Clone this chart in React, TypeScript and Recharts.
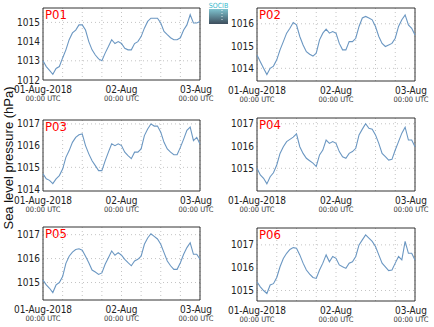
import { LineChart, Line, XAxis, YAxis, CartesianGrid, ReferenceArea } from "recharts";

// hours since 01-Aug-2018 00:00 UTC
const hours = Array.from({ length: 49 }, (_, i) => i);
const hourTicks = [0, 6, 12, 18, 24, 30, 36, 42, 48];
const dayLabels: Record<number, string> = { 0: "01-Aug-2018", 24: "02-Aug", 48: "03-Aug" };

const p01 = [1013.0, 1012.7, 1012.5, 1012.3, 1012.6, 1012.7, 1013.15, 1013.57, 1014.1, 1014.45, 1014.6, 1014.87, 1014.87, 1014.6, 1014.0, 1013.57, 1013.3, 1013.1, 1013.0, 1013.4, 1013.74, 1014.1, 1013.9, 1014.0, 1013.9, 1013.65, 1013.57, 1013.57, 1013.9, 1014.0, 1014.26, 1014.7, 1015.05, 1015.22, 1015.22, 1015.22, 1014.97, 1014.53, 1014.36, 1014.2, 1014.1, 1014.1, 1014.2, 1014.6, 1014.87, 1015.4, 1014.97, 1014.97, 1015.05];
const p02 = [1014.6, 1014.3, 1014.0, 1013.72, 1014.0, 1014.1, 1014.38, 1014.83, 1015.2, 1015.58, 1015.8, 1016.06, 1015.95, 1015.43, 1015.05, 1014.75, 1014.63, 1014.55, 1014.68, 1015.28, 1015.58, 1015.76, 1015.58, 1015.65, 1015.58, 1015.12, 1014.83, 1014.83, 1015.2, 1015.2, 1015.35, 1015.88, 1016.26, 1016.33, 1016.26, 1016.18, 1015.88, 1015.43, 1015.12, 1014.98, 1015.05, 1015.12, 1015.35, 1015.88, 1016.18, 1016.4, 1015.95, 1015.8, 1015.5];
const p03 = [1014.7, 1014.47, 1014.4, 1014.25, 1014.47, 1014.62, 1014.92, 1015.46, 1015.77, 1016.15, 1016.38, 1016.5, 1016.54, 1016.0, 1015.62, 1015.3, 1015.08, 1014.85, 1014.85, 1015.3, 1015.7, 1016.08, 1016.0, 1016.08, 1016.0, 1015.7, 1015.54, 1015.4, 1015.7, 1015.7, 1015.85, 1016.46, 1016.77, 1017.0, 1016.9, 1016.9, 1016.62, 1016.15, 1015.85, 1015.7, 1015.58, 1015.58, 1015.92, 1016.3, 1016.7, 1016.85, 1016.23, 1016.38, 1016.08];
const p04 = [1015.0, 1014.7, 1014.55, 1014.3, 1014.62, 1014.8, 1015.15, 1015.67, 1015.97, 1016.2, 1016.3, 1016.4, 1016.55, 1015.97, 1015.67, 1015.45, 1015.34, 1015.23, 1015.08, 1015.6, 1015.82, 1016.27, 1016.12, 1016.2, 1016.12, 1015.75, 1015.52, 1015.45, 1015.67, 1015.75, 1015.9, 1016.5, 1016.76, 1017.0, 1016.8, 1016.76, 1016.5, 1016.12, 1015.67, 1015.52, 1015.37, 1015.4, 1015.82, 1016.2, 1016.58, 1016.85, 1016.27, 1016.27, 1015.97];
const p05 = [1015.1, 1014.9, 1014.76, 1014.58, 1014.9, 1015.0, 1015.25, 1015.8, 1016.1, 1016.27, 1016.38, 1016.41, 1016.35, 1016.1, 1015.83, 1015.52, 1015.44, 1015.34, 1015.4, 1015.76, 1016.04, 1016.32, 1016.14, 1016.25, 1016.14, 1015.97, 1015.83, 1015.7, 1015.9, 1015.97, 1016.1, 1016.6, 1016.86, 1017.04, 1016.93, 1016.82, 1016.6, 1016.25, 1015.9, 1015.7, 1015.55, 1015.55, 1015.83, 1016.18, 1016.46, 1016.66, 1016.18, 1016.18, 1015.97];
const p06 = [1015.38, 1015.16, 1015.0, 1014.87, 1015.24, 1015.3, 1015.57, 1016.04, 1016.4, 1016.63, 1016.8, 1016.88, 1016.85, 1016.56, 1016.2, 1015.9, 1015.72, 1015.57, 1015.53, 1015.9, 1016.2, 1016.56, 1016.26, 1016.49, 1016.41, 1016.12, 1016.04, 1015.97, 1016.2, 1016.26, 1016.49, 1017.0, 1017.22, 1017.44, 1017.3, 1017.15, 1016.93, 1016.56, 1016.2, 1016.04, 1015.87, 1015.9, 1016.2, 1016.49, 1016.34, 1017.15, 1016.63, 1016.63, 1016.34];

const ticks01 = [1012, 1013, 1014, 1015];
const ticks02 = [1014, 1015, 1016];
const ticks345 = [1015, 1016, 1017];
const ticks03 = [1014, 1015, 1016, 1017];

const font = "'Liberation Sans', Arial, sans-serif";
const narrow = "'Liberation Sans Narrow', 'DejaVu Sans Condensed', sans-serif";
const lineColor = "#6b97c2";

const panels = [
  { name: "P01", values: p01, domain: [1012, 1015.75], ticks: ticks01, left: 0, top: 0, mt: 8, h: 72, plotW: 157 },
  { name: "P02", values: p02, domain: [1013.43, 1016.71], ticks: ticks02, left: 214, top: 0, mt: 8, h: 73, plotW: 158 },
  { name: "P03", values: p03, domain: [1013.91, 1017.18], ticks: ticks03, left: 0, top: 110, mt: 10, h: 71, plotW: 157 },
  { name: "P04", values: p04, domain: [1013.98, 1017.26], ticks: ticks345, left: 214, top: 110, mt: 8, h: 73, plotW: 158 },
  { name: "P05", values: p05, domain: [1014.27, 1017.32], ticks: ticks345, left: 0, top: 220, mt: 7, h: 73, plotW: 157 },
  { name: "P06", values: p06, domain: [1014.54, 1017.74], ticks: ticks345, left: 214, top: 220, mt: 8, h: 73, plotW: 158 },
];

const XTick = ({ x, y, payload }: any) => {
  const label = dayLabels[payload.value];
  if (!label) return <g />;
  const dx = payload.value === 48 ? -4 : 0;
  return (
    <g transform={`translate(${x + dx},${y})`}>
      <text y={13.3} textAnchor="middle" fontSize={10} fill="#222" fontFamily={narrow}>
        {label}
      </text>
      <text y={21} textAnchor="middle" fontSize={7.5} fill="#333" fontFamily={narrow}>
        00:00 UTC
      </text>
    </g>
  );
};

const Panel = ({ p }: { p: (typeof panels)[number] }) => {
  const data = hours.map((h, i) => ({ h, v: p.values[i] }));
  const width = 215;
  const height = p.mt + p.h + 30;
  return (
    <div style={{ position: "absolute", left: p.left, top: p.top }}>
      <LineChart
        width={width}
        height={height}
        data={data}
        margin={{ top: p.mt, right: width - 43 - p.plotW, bottom: 0, left: 0 }}
      >
        <CartesianGrid stroke="#c4c4c4" strokeDasharray="1 3" horizontalValues={p.ticks} verticalValues={hourTicks} />
        <XAxis
          dataKey="h"
          type="number"
          domain={[0, 48]}
          ticks={hourTicks}
          interval={0}
          height={30}
          tick={<XTick />}
          tickLine={false}
          axisLine={false}
          tickSize={0}
          tickMargin={0}
        />
        <YAxis
          type="number"
          domain={p.domain}
          ticks={p.ticks}
          allowDataOverflow
          width={43}
          tickLine={false}
          axisLine={false}
          tickSize={0}
          tickMargin={3}
          tick={{ fontSize: 10, fill: "#222", fontFamily: narrow }}
        />
        <Line
          dataKey="v"
          type="linear"
          stroke={lineColor}
          strokeWidth={1.1}
          dot={false}
          isAnimationActive={false}
        />
        <ReferenceArea
          x1={0}
          x2={48}
          y1={p.domain[0]}
          y2={p.domain[1]}
          fill="none"
          stroke="#333"
          strokeWidth={1}
          label={{ value: p.name, position: "insideTopLeft", offset: 2, fill: "#ff0000", fontSize: 13, fontFamily: narrow }}
        />
      </LineChart>
    </div>
  );
};

export default function App() {
  return (
    <div style={{ position: "absolute", left: 0, top: 0, width: 434, height: 327, background: "#fff", fontFamily: font }}>
      {panels.map((p) => (
        <Panel key={p.name} p={p} />
      ))}
      <svg width={434} height={327} style={{ position: "absolute", left: 0, top: 0, pointerEvents: "none" }}>
        <defs>
          <linearGradient id="logoGrad" x1="0" y1="0" x2="0" y2="1">
            <stop offset="0%" stopColor="#7fc3cf" />
            <stop offset="100%" stopColor="#3d4d5c" />
          </linearGradient>
        </defs>
        <text
          transform="translate(13,158) rotate(-90)"
          textAnchor="middle"
          fontSize={13}
          fill="#111"
          fontFamily={font}
        >
          Sea level pressure (hPa)
        </text>
        <rect x={209} y={9} width={19} height={15} fill="url(#logoGrad)" />
        <line x1={222} y1={10} x2={222} y2={21} stroke="#fff" strokeDasharray="1 2" strokeWidth={0.8} />
        <text x={218.5} y={8} textAnchor="middle" fontSize={7} fill="#35b8cc" fontFamily={narrow}>
          SOCIB
        </text>
      </svg>
    </div>
  );
}
